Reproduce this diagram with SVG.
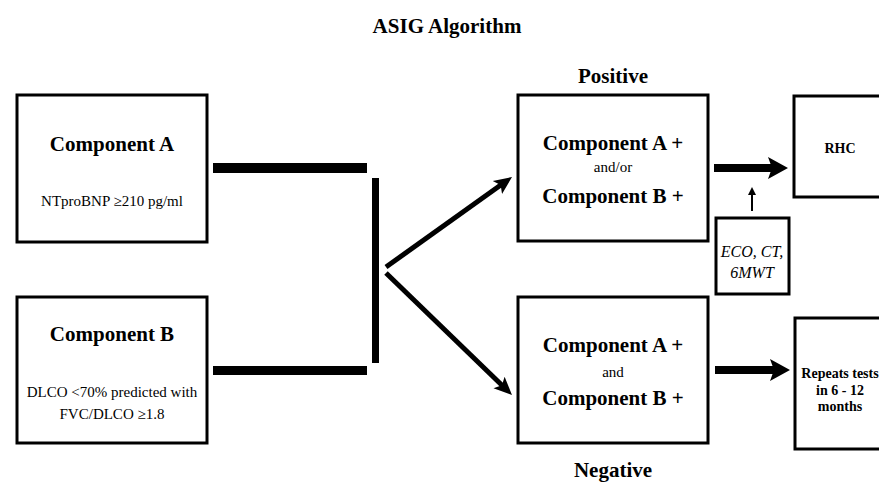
<svg xmlns="http://www.w3.org/2000/svg" width="879" height="484" viewBox="0 0 879 484">
<style>
text{font-family:"Liberation Serif","Times New Roman",serif;fill:#000;text-anchor:middle}
.h{font-weight:bold;font-size:21px}
.b{font-size:15px}
.s{font-weight:bold;font-size:14px}
.i{font-style:italic;font-size:16px}
.box{fill:#fff;stroke:#000;stroke-width:3}
.bar{fill:#000}
.diag{stroke:#000;stroke-width:5;fill:none}
.thick{stroke:#000;stroke-width:8;fill:none}
.thin{stroke:#000;stroke-width:2;fill:none}
</style>
<defs>
<marker id="ad" viewBox="0 0 18 18" markerWidth="18" markerHeight="18" refX="8" refY="9" orient="auto" markerUnits="userSpaceOnUse"><path d="M0,1 L18,9 L0,17 L4,9 z" fill="#000"/></marker>
<marker id="ab" viewBox="0 0 20 24" markerWidth="20" markerHeight="24" refX="8" refY="12" orient="auto" markerUnits="userSpaceOnUse"><path d="M0,1 L20,12 L0,23 L4,12 z" fill="#000"/></marker>
<marker id="as" viewBox="0 0 8 8" markerWidth="8" markerHeight="8" refX="2" refY="4" orient="auto" markerUnits="userSpaceOnUse"><path d="M0,0 L8,4 L0,8 z" fill="#000"/></marker>
</defs>
<text class="h" x="447" y="33">ASIG Algorithm</text>
<g id="compA">
<rect class="box" x="17" y="95" width="190" height="147"/>
<text class="h" x="112" y="151">Component A</text>
<text class="b" x="112" y="206">NTproBNP ≥210 pg/ml</text>
</g>
<g id="compB">
<rect class="box" x="17" y="297" width="190" height="146"/>
<text class="h" x="112" y="341">Component B</text>
<text class="b" x="112" y="397">DLCO &lt;70% predicted with</text>
<text class="b" x="112" y="419">FVC/DLCO ≥1.8</text>
</g>
<g id="positive">
<text class="h" x="613" y="83">Positive</text>
<rect class="box" x="518" y="95" width="190" height="146"/>
<text class="h" x="613" y="150">Component A +</text>
<text class="b" x="613" y="172">and/or</text>
<text class="h" x="613" y="203">Component B +</text>
</g>
<g id="negative">
<rect class="box" x="518" y="297" width="190" height="146"/>
<text class="h" x="613" y="352">Component A +</text>
<text class="b" x="613" y="377">and</text>
<text class="h" x="613" y="405">Component B +</text>
<text class="h" x="613" y="477">Negative</text>
</g>
<g id="rhc">
<rect class="box" x="794" y="96" width="110" height="101"/>
<text class="s" x="840" y="153">RHC</text>
</g>
<g id="tests">
<rect class="box" x="716" y="218" width="73" height="76"/>
<text class="i" x="752" y="257">ECO, CT,</text>
<text class="i" x="752" y="278">6MWT</text>
</g>
<g id="repeat">
<rect class="box" x="795" y="318" width="110" height="131"/>
<text class="s" x="840" y="378">Repeats tests</text>
<text class="s" x="840" y="395">in 6 - 12</text>
<text class="s" x="840" y="411">months</text>
</g>
<g id="connectors">
<rect class="bar" x="213" y="163" width="154" height="10"/>
<rect class="bar" x="213" y="366" width="154" height="9"/>
<rect class="bar" x="372" y="178" width="7" height="185"/>
<line class="diag" x1="386" y1="267" x2="503.9" y2="182.8" marker-end="url(#ad)"/>
<line class="diag" x1="386" y1="273" x2="504.8" y2="388" marker-end="url(#ad)"/>
<line class="thick" x1="714" y1="168" x2="776" y2="168" marker-end="url(#ab)"/>
<line class="thick" x1="715" y1="370" x2="778" y2="370" marker-end="url(#ab)"/>
<line class="thin" x1="752" y1="211" x2="752" y2="193" marker-end="url(#as)"/>
</g>
</svg>
